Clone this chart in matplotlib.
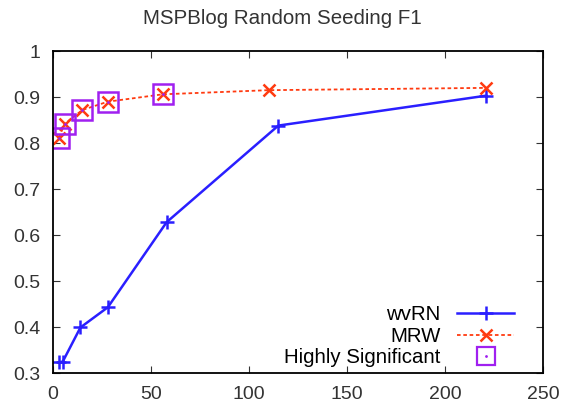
import numpy as np
import matplotlib.pyplot as plt

plt.rcParams['font.family'] = ['Liberation Sans', 'DejaVu Sans']

# datos
x_wvrn = [3, 5, 14, 28, 58, 115, 221]
f1_wvrn = [0.323, 0.325, 0.399, 0.443, 0.628, 0.838, 0.903]
x_mrw = [3, 6, 15, 28, 56, 110, 221]
f1_mrw = [0.812, 0.842, 0.872, 0.890, 0.906, 0.915, 0.920]
sig_idx = [0, 1, 2, 3, 4]

fig = plt.figure(figsize=(5.65, 4.07), dpi=100)
ax = fig.add_axes([0.0938, 0.0835, 0.867, 0.791])

ax.plot(x_wvrn, f1_wvrn, color='#2a1fff', lw=1.8, marker='+', ms=10, mew=1.8, label='wvRN')
ax.plot(x_mrw, f1_mrw, color='#ff3a10', lw=1.3, ls=(0, (2, 1.5)), marker='x', ms=9, mew=1.8, label='MRW')
xs = [x_mrw[i] for i in sig_idx]
ys = [f1_mrw[i] for i in sig_idx]
ax.plot(xs, ys, ls='none', marker='s', ms=15, mfc='none', mec='#a020f0', mew=1.8)
ax.plot(xs, ys, ls='none', marker='.', ms=2, color='#a020f0')

# entrada de leyenda para el cuadrado
h1, = ax.plot([], [], ls='none', marker='s', ms=13, mfc='none', mec='#a020f0', mew=1.6)
h2, = ax.plot([], [], ls='none', marker='.', ms=2, color='#a020f0')
hs, ls_ = ax.get_legend_handles_labels()
ax.legend(hs[:2] + [(h1, h2)], ls_[:2] + ['Highly Significant'], loc='lower right',
          bbox_to_anchor=(0.95, 0.005), markerfirst=False, frameon=False,
          fontsize=14.7, handlelength=2.8, borderaxespad=0, borderpad=0.2,
          labelspacing=0.12, handletextpad=0.8)

ax.set_xlim(0, 250)
ax.set_ylim(0.3, 1.0)
ax.set_xticks(np.arange(0, 251, 50))
ax.set_yticks(np.arange(0.3, 1.01, 0.1))
ax.set_yticklabels(['0.3', '0.4', '0.5', '0.6', '0.7', '0.8', '0.9', '1'])
ax.tick_params(direction='in', top=True, right=True, labelsize=14, length=5, colors='#333333')
ax.tick_params(axis='x', pad=9)
ax.tick_params(axis='y', pad=9)
for s in ax.spines.values():
    s.set_linewidth(1.3)
fig.text(0.5, 1 - 18 / 407, 'MSPBlog Random Seeding F1', fontsize=14.8,
         color='#333333', ha='center', va='center')

fig.savefig('out.png', dpi=100)
